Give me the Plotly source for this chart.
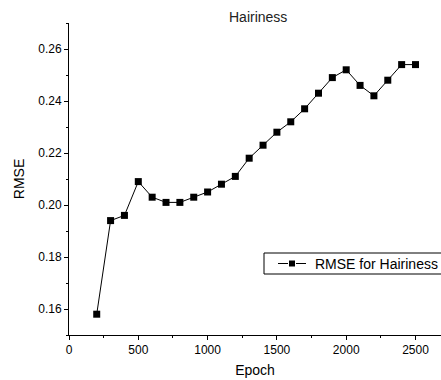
import plotly.graph_objects as go

epochs = [200, 300, 400, 500, 600, 700, 800, 900, 1000, 1100, 1200, 1300,
          1400, 1500, 1600, 1700, 1800, 1900, 2000, 2100, 2200, 2300, 2400, 2500]
rmse = [0.158, 0.194, 0.196, 0.209, 0.203, 0.201, 0.201, 0.203, 0.205, 0.208,
        0.211, 0.218, 0.223, 0.228, 0.232, 0.237, 0.243, 0.249, 0.252, 0.246,
        0.242, 0.248, 0.254, 0.254]
series_name = "RMSE for Hairiness"
x_ticks = [0, 500, 1000, 1500, 2000, 2500]
y_ticks = [0.16, 0.18, 0.20, 0.22, 0.24, 0.26]

FONT = "Liberation Sans, Arial, sans-serif"

# plot area in pixels (for legend placement)
L, R, T, B = 69, 441, 23, 335
def px(xp):
    return (xp - L) / (R - L)
def py(yp):
    return (B - yp) / (B - T)

fig = go.Figure()
fig.add_trace(go.Scatter(
    x=epochs, y=rmse, mode="lines+markers", name=series_name,
    line=dict(color="black", width=1),
    marker=dict(symbol="square", size=7, color="black"),
    showlegend=False,
))

shapes = [
    # legend box
    dict(type="rect", xref="paper", yref="paper", x0=px(264), x1=px(447), y0=py(274), y1=py(253),
         line=dict(color="black", width=1), fillcolor="white", layer="above"),
    # legend sample line pieces
    dict(type="line", xref="paper", yref="paper", x0=px(278), x1=px(288), y0=py(263.5), y1=py(263.5),
         line=dict(color="black", width=1), layer="above"),
    dict(type="line", xref="paper", yref="paper", x0=px(296), x1=px(306), y0=py(263.5), y1=py(263.5),
         line=dict(color="black", width=1), layer="above"),
    # legend sample marker
    dict(type="rect", xref="paper", yref="paper", x0=px(289), x1=px(295), y0=py(266.5), y1=py(260.5),
         line=dict(color="black", width=0), fillcolor="black", layer="above"),
]

fig.update_layout(
    width=441, height=380,
    margin=dict(l=L, r=441 - R, t=T, b=380 - B),
    paper_bgcolor="white", plot_bgcolor="white",
    font=dict(family=FONT, size=12, color="black"),
    showlegend=False,
    shapes=shapes,
    annotations=[
        dict(text="Hairiness", xref="paper", yref="paper",
             x=px(258), y=1.0, yshift=6, xanchor="center", yanchor="middle",
             showarrow=False, font=dict(size=14, family=FONT, color="#222")),
        dict(text=series_name, xref="paper", yref="paper",
             x=px(313), y=py(263.5), xanchor="left", yanchor="middle",
             showarrow=False, font=dict(size=14, family=FONT, color="black")),
    ],
)

fig.update_xaxes(
    range=[0, 2684], tickvals=x_ticks, ticktext=[str(v) for v in x_ticks],
    showline=True, linecolor="black", linewidth=1, mirror=False,
    ticks="outside", ticklen=4, tickcolor="black", showgrid=False, zeroline=False,
    minor=dict(ticks="outside", ticklen=2, dtick=250, tick0=0, tickcolor="black", showgrid=False),
    title=dict(text="Epoch", font=dict(size=14, family=FONT), standoff=8),
    tickfont=dict(size=12, family=FONT),
)
fig.update_yaxes(
    range=[0.15, 0.27], tickvals=y_ticks, ticktext=["%.2f" % v for v in y_ticks],
    showline=True, linecolor="black", linewidth=1, mirror=False,
    ticks="outside", ticklen=4, tickcolor="black", showgrid=False, zeroline=False,
    minor=dict(ticks="outside", ticklen=2, dtick=0.01, tick0=0.15, tickcolor="black", showgrid=False),
    title=dict(text="RMSE", font=dict(size=14, family=FONT), standoff=10),
    tickfont=dict(size=12, family=FONT),
)

fig.write_html("out.html")
